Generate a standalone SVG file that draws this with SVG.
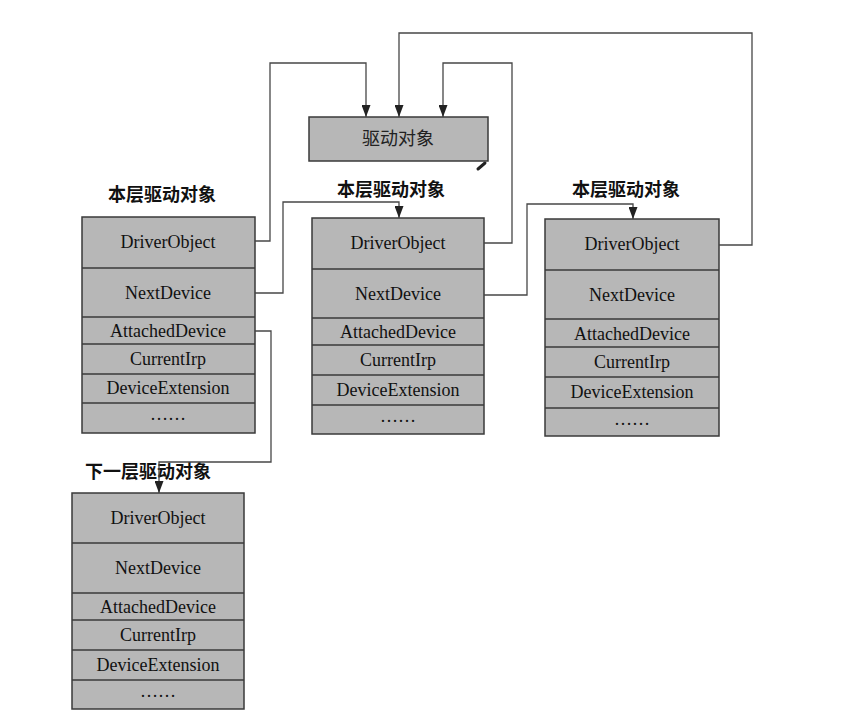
<svg xmlns="http://www.w3.org/2000/svg" width="846" height="719" viewBox="0 0 846 719">
<style>
.box{fill:#b7b7b7;stroke:#3a3a3a;stroke-width:1.5}
.sep{stroke:#3a3a3a;stroke-width:1.4}
.f{font-family:"Liberation Serif","Times New Roman",serif;font-size:18px;fill:#111;text-anchor:middle}
.lbl{font-family:"Noto Sans CJK SC","Noto Sans",sans-serif;font-size:18px;font-weight:bold;fill:#111;text-anchor:middle}
.drv{font-family:"Noto Sans CJK SC","Noto Sans",sans-serif;font-size:18px;fill:#222;text-anchor:middle}
.con{fill:none;stroke:#474747;stroke-width:1.3}
</style>
<defs>
<marker id="arr" markerUnits="userSpaceOnUse" markerWidth="12" markerHeight="9" refX="12" refY="4.5" orient="auto">
<path d="M0,0 L12,4.5 L0,9 z" fill="#222"/>
</marker>
</defs>
<rect width="846" height="719" fill="#ffffff"/>

<g id="driver">
<rect class="box" x="309" y="117" width="179" height="44" fill="#b2b2b2"/>
<text class="drv" x="398" y="145">驱动对象</text>
<path d="M478,169 L485,163" stroke="#222" stroke-width="3" stroke-linecap="round"/>
</g>

<g id="dev1">
<text class="lbl" x="162" y="201">本层驱动对象</text>
<rect class="box" x="82" y="217" width="173" height="216"/>
<line class="sep" x1="82" y1="268" x2="255" y2="268"/>
<line class="sep" x1="82" y1="317" x2="255" y2="317"/>
<line class="sep" x1="82" y1="344" x2="255" y2="344"/>
<line class="sep" x1="82" y1="374" x2="255" y2="374"/>
<line class="sep" x1="82" y1="403" x2="255" y2="403"/>
<text class="f" x="168" y="248">DriverObject</text>
<text class="f" x="168" y="299">NextDevice</text>
<text class="f" x="168" y="337">AttachedDevice</text>
<text class="f" x="168" y="365">CurrentIrp</text>
<text class="f" x="168" y="394">DeviceExtension</text>
<text class="f" x="168" y="420">……</text>
</g>

<g id="dev2">
<text class="lbl" x="391" y="196">本层驱动对象</text>
<rect class="box" x="312" y="218" width="172" height="216"/>
<line class="sep" x1="312" y1="269" x2="484" y2="269"/>
<line class="sep" x1="312" y1="318" x2="484" y2="318"/>
<line class="sep" x1="312" y1="345" x2="484" y2="345"/>
<line class="sep" x1="312" y1="375" x2="484" y2="375"/>
<line class="sep" x1="312" y1="405" x2="484" y2="405"/>
<text class="f" x="398" y="249">DriverObject</text>
<text class="f" x="398" y="300">NextDevice</text>
<text class="f" x="398" y="338">AttachedDevice</text>
<text class="f" x="398" y="366">CurrentIrp</text>
<text class="f" x="398" y="396">DeviceExtension</text>
<text class="f" x="398" y="422">……</text>
</g>

<g id="dev3">
<text class="lbl" x="626" y="196">本层驱动对象</text>
<rect class="box" x="545" y="219" width="174" height="217"/>
<line class="sep" x1="545" y1="270" x2="719" y2="270"/>
<line class="sep" x1="545" y1="319" x2="719" y2="319"/>
<line class="sep" x1="545" y1="347" x2="719" y2="347"/>
<line class="sep" x1="545" y1="377" x2="719" y2="377"/>
<line class="sep" x1="545" y1="408" x2="719" y2="408"/>
<text class="f" x="632" y="250">DriverObject</text>
<text class="f" x="632" y="301">NextDevice</text>
<text class="f" x="632" y="340">AttachedDevice</text>
<text class="f" x="632" y="368">CurrentIrp</text>
<text class="f" x="632" y="398">DeviceExtension</text>
<text class="f" x="632" y="425">……</text>
</g>

<g id="dev4">
<text class="lbl" x="148" y="478">下一层驱动对象</text>
<rect class="box" x="72" y="493" width="172" height="216"/>
<line class="sep" x1="72" y1="543" x2="244" y2="543"/>
<line class="sep" x1="72" y1="593" x2="244" y2="593"/>
<line class="sep" x1="72" y1="620" x2="244" y2="620"/>
<line class="sep" x1="72" y1="650" x2="244" y2="650"/>
<line class="sep" x1="72" y1="680" x2="244" y2="680"/>
<text class="f" x="158" y="524">DriverObject</text>
<text class="f" x="158" y="574">NextDevice</text>
<text class="f" x="158" y="613">AttachedDevice</text>
<text class="f" x="158" y="641">CurrentIrp</text>
<text class="f" x="158" y="671">DeviceExtension</text>
<text class="f" x="158" y="697">……</text>
</g>

<g id="connectors">
<path class="con" d="M255,241 H270 V63 H366 V117" marker-end="url(#arr)"/>
<path class="con" d="M719,245 H752 V33 H399 V117" marker-end="url(#arr)"/>
<path class="con" d="M484,243 H512 V63 H443 V117" marker-end="url(#arr)"/>
<path class="con" d="M255,293 H283 V202 H399 V218" marker-end="url(#arr)"/>
<path class="con" d="M484,295 H527 V204 H633 V219" marker-end="url(#arr)"/>
<path class="con" d="M255,331 H271 V462 H159 V493" marker-end="url(#arr)"/>
</g>
</svg>
